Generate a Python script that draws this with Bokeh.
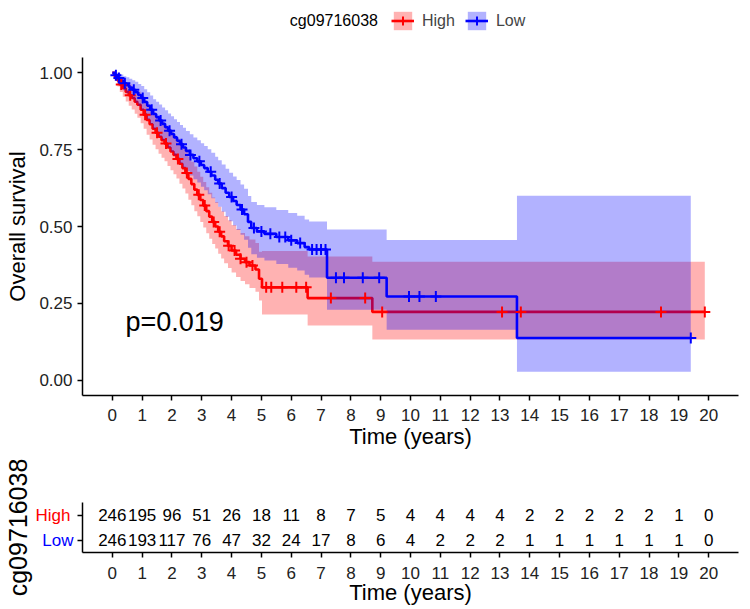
import numpy as np
from bokeh.plotting import figure
from bokeh.layouts import column
from bokeh.models import (Range1d, FixedTicker, NumeralTickFormatter, Label,
                          Legend, LegendItem, ColumnDataSource, LinearAxis)
from bokeh.embed import file_html
from bokeh.resources import INLINE

FONT = "Liberation Sans"

# ---------------- data ----------------
groups = ["High", "Low"]
legend_title = "cg09716038"
p_text = "p=0.019"

red_t = [0.08, 0.17, 0.25, 0.35, 0.45, 0.55, 0.65, 0.75, 0.84, 0.95,
         1.05, 1.15, 1.25, 1.35, 1.45, 1.55, 1.65, 1.75, 1.85, 1.95,
         2.05, 2.15, 2.25, 2.35, 2.45, 2.55, 2.65, 2.75, 2.85, 2.95,
         3.05, 3.15, 3.25, 3.35, 3.45, 3.55, 3.65, 3.75, 3.88, 4.00,
         4.15, 4.30, 4.45, 4.60, 4.80, 4.92, 5.02, 6.55, 8.72]
red_s = [0.988, 0.975, 0.962, 0.950, 0.938, 0.927, 0.918, 0.906, 0.896, 0.880,
         0.864, 0.847, 0.833, 0.818, 0.805, 0.792, 0.781, 0.770, 0.757, 0.744,
         0.733, 0.720, 0.704, 0.690, 0.674, 0.655, 0.638, 0.620, 0.603, 0.586,
         0.568, 0.550, 0.532, 0.515, 0.500, 0.483, 0.468, 0.452, 0.437, 0.422,
         0.408, 0.395, 0.384, 0.373, 0.360, 0.330, 0.302, 0.267, 0.222]
red_lo = [0.974, 0.956, 0.938, 0.922, 0.907, 0.893, 0.881, 0.867, 0.854, 0.836,
          0.818, 0.799, 0.783, 0.766, 0.751, 0.737, 0.724, 0.712, 0.697, 0.683,
          0.670, 0.656, 0.639, 0.624, 0.607, 0.587, 0.569, 0.550, 0.533, 0.515,
          0.497, 0.478, 0.460, 0.443, 0.428, 0.411, 0.396, 0.380, 0.365, 0.350,
          0.336, 0.323, 0.312, 0.300, 0.288, 0.259, 0.214, 0.178, 0.132]
red_hi = [1.000, 0.994, 0.986, 0.978, 0.969, 0.962, 0.955, 0.946, 0.939, 0.926,
          0.912, 0.897, 0.885, 0.872, 0.860, 0.848, 0.839, 0.830, 0.819, 0.807,
          0.797, 0.786, 0.771, 0.759, 0.745, 0.727, 0.711, 0.695, 0.678, 0.662,
          0.645, 0.628, 0.610, 0.594, 0.580, 0.564, 0.550, 0.534, 0.520, 0.505,
          0.492, 0.479, 0.468, 0.458, 0.446, 0.418, 0.420, 0.402, 0.385]
red_end = 19.87
red_cens = [0.3, 0.6, 1.1, 1.5, 1.8, 2.2, 2.5, 2.9, 3.1, 3.4, 3.6, 3.9, 4.1, 4.3,
            4.5, 4.7, 5.16, 5.33, 5.7, 6.17, 6.5, 7.33, 8.48, 9.05, 13.07, 13.7,
            18.4, 19.87]

blue_t = [0.08, 0.17, 0.27, 0.37, 0.47, 0.57, 0.67, 0.77, 0.87, 0.97,
          1.07, 1.17, 1.27, 1.37, 1.47, 1.57, 1.67, 1.77, 1.87, 1.97,
          2.07, 2.17, 2.27, 2.37, 2.47, 2.60, 2.72, 2.85, 2.97, 3.08,
          3.20, 3.32, 3.45, 3.55, 3.67, 3.80, 3.92, 4.05, 4.17, 4.30,
          4.42, 4.55, 4.66, 4.85, 5.10, 5.50, 5.90, 6.20, 6.45, 6.60,
          7.20, 9.20, 13.57]
blue_s = [0.992, 0.983, 0.975, 0.966, 0.960, 0.952, 0.945, 0.937, 0.928, 0.918,
          0.905, 0.893, 0.880, 0.866, 0.856, 0.845, 0.834, 0.823, 0.812, 0.801,
          0.790, 0.779, 0.768, 0.757, 0.746, 0.733, 0.722, 0.712, 0.700, 0.690,
          0.678, 0.666, 0.652, 0.640, 0.625, 0.610, 0.596, 0.583, 0.570, 0.555,
          0.540, 0.515, 0.495, 0.484, 0.476, 0.466, 0.455, 0.446, 0.433, 0.425,
          0.333, 0.272, 0.137]
blue_lo = [0.981, 0.967, 0.955, 0.943, 0.934, 0.923, 0.914, 0.903, 0.892, 0.879,
           0.863, 0.849, 0.834, 0.818, 0.806, 0.793, 0.781, 0.768, 0.756, 0.743,
           0.731, 0.718, 0.706, 0.693, 0.681, 0.666, 0.654, 0.643, 0.629, 0.618,
           0.605, 0.592, 0.577, 0.564, 0.548, 0.532, 0.517, 0.503, 0.489, 0.473,
           0.457, 0.431, 0.410, 0.398, 0.389, 0.378, 0.366, 0.357, 0.343, 0.334,
           0.229, 0.164, 0.027]
blue_hi = [1.000, 0.999, 0.995, 0.989, 0.986, 0.981, 0.976, 0.971, 0.964, 0.957,
           0.947, 0.937, 0.926, 0.914, 0.906, 0.897, 0.887, 0.878, 0.868, 0.859,
           0.849, 0.840, 0.830, 0.821, 0.811, 0.800, 0.790, 0.781, 0.771, 0.762,
           0.751, 0.740, 0.727, 0.716, 0.702, 0.688, 0.675, 0.663, 0.651, 0.637,
           0.623, 0.599, 0.580, 0.570, 0.563, 0.554, 0.544, 0.535, 0.523, 0.516,
           0.490, 0.456, 0.600]
blue_end = 19.4
blue_cens = [0.12, 0.22, 0.42, 0.72, 1.02, 1.32, 1.62, 1.92, 2.32, 2.62, 2.92,
             3.3, 3.6, 4.0, 4.35, 4.75, 5.0, 5.3, 5.6, 5.8, 6.0, 6.3, 6.7, 6.85,
             7.0, 7.15, 7.5, 7.77, 8.4, 8.95, 9.95, 10.3, 10.85, 19.4]

risk_times = list(range(0, 21))
risk_high = [246, 195, 96, 51, 26, 18, 11, 8, 7, 5, 4, 4, 4, 4, 2, 2, 2, 2, 2, 1, 0]
risk_low = [246, 193, 117, 76, 47, 32, 24, 17, 8, 6, 4, 2, 2, 2, 1, 1, 1, 1, 1, 1, 0]

x_ticks = list(range(0, 21))
y_ticks = [0, 0.25, 0.5, 0.75, 1.0]

RED = "#FF0000"
BLUE = "#0000FF"
COLORS = {"High": RED, "Low": BLUE}
X_RANGE = (-1, 21)


def step_arrays(t, s, lo, hi, end):
    x = [0.0] + list(t) + [end]
    y = [1.0] + list(s) + [s[-1]]
    y1 = [1.0] + list(lo) + [lo[-1]]
    y2 = [1.0] + list(hi) + [hi[-1]]
    return x, y, y1, y2


def censor_y(t, s, cens):
    tt = np.array([0.0] + list(t))
    ss = np.array([1.0] + list(s))
    idx = np.searchsorted(tt, np.array(cens), side="right") - 1
    return list(ss[idx])


def style_axis(ax, title_size="22px"):
    ax.axis_line_color = "black"
    ax.axis_line_width = 1.5
    ax.major_tick_line_color = "black"
    ax.major_tick_line_width = 1.5
    ax.major_tick_in = 0
    ax.major_tick_out = 5
    ax.minor_tick_line_color = None
    ax.major_label_text_font = FONT
    ax.major_label_text_font_size = "17px"
    ax.major_label_text_color = "#222222"
    ax.axis_label_text_font = FONT
    ax.axis_label_text_font_size = title_size
    ax.axis_label_text_font_style = "normal"
    ax.axis_label_text_color = "black"


def bare(fig):
    fig.outline_line_color = None
    fig.xgrid.visible = False
    fig.ygrid.visible = False


# ---------------- legend strip (frame aligned with the plot frame) ----------------
lg = figure(width=742, height=40, x_range=Range1d(*X_RANGE), y_range=Range1d(0, 40),
            output_backend="svg", toolbar_location=None,
            x_axis_type=None, y_axis_type=None,
            min_border_left=76, min_border_right=10, min_border_top=0, min_border_bottom=0)
bare(lg)
nan = float("nan")
items = []
for name in groups:
    col = COLORS[name]
    rq = lg.quad(left=[nan], right=[nan], top=[nan], bottom=[nan], fill_color=col,
                 fill_alpha=0.3, line_color=None)
    rl = lg.line(x=[nan], y=[nan], line_color=col, line_width=2.6)
    rs = lg.scatter(x=[nan], y=[nan], marker="cross", size=11, line_color=col, line_width=2)
    items.append(LegendItem(label=name, renderers=[rq, rl, rs]))
legend = Legend(items=items, orientation="horizontal", location=(309, 8),
                glyph_width=23, glyph_height=23, label_height=23,
                label_text_font=FONT, label_text_font_size="16px",
                label_standoff=8, spacing=10, padding=0, margin=0,
                background_fill_alpha=0, border_line_color=None)
lg.add_layout(legend, "center")
lg.add_layout(Label(x=9.0, y=20, text=legend_title, text_font=FONT,
                    text_font_size="16px", text_align="right",
                    text_baseline="middle", text_color="black"))

# ---------------- main plot ----------------
p = figure(frame_width=656, frame_height=338,
           x_range=Range1d(*X_RANGE), y_range=Range1d(-0.05, 1.05),
           output_backend="svg", toolbar_location=None,
           min_border_left=76, min_border_right=10,
           min_border_top=17, min_border_bottom=64)
bare(p)

for name, t, s, lo, hi, end in [
        ("High", red_t, red_s, red_lo, red_hi, red_end),
        ("Low", blue_t, blue_s, blue_lo, blue_hi, blue_end)]:
    col = COLORS[name]
    x, y, y1, y2 = step_arrays(t, s, lo, hi, end)
    p.varea_step(x=x, y1=y1, y2=y2, step_mode="after", fill_color=col, fill_alpha=0.3)
    p.step(x=x, y=y, mode="after", line_color=col, line_width=2.6)

for name, t, s, cens in [("High", red_t, red_s, red_cens),
                         ("Low", blue_t, blue_s, blue_cens)]:
    src = ColumnDataSource(dict(x=cens, y=censor_y(t, s, cens)))
    p.scatter("x", "y", source=src, marker="cross", size=11,
              line_color=COLORS[name], line_width=2)

p.xaxis.ticker = FixedTicker(ticks=x_ticks)
p.yaxis.ticker = FixedTicker(ticks=y_ticks)
p.yaxis.formatter = NumeralTickFormatter(format="0.00")
p.xaxis.axis_label = "Time (years)"
p.yaxis.axis_label = "Overall survival"
style_axis(p.xaxis[0])
style_axis(p.yaxis[0])
p.xaxis.major_label_standoff = 8
p.xaxis.axis_label_standoff = 0
p.yaxis.major_label_standoff = 5
p.yaxis.axis_label_standoff = 6

p.add_layout(Label(x=0.44, y=0.19, text=p_text, text_font=FONT,
                   text_font_size="27px", text_baseline="middle",
                   text_color="black"))

# ---------------- risk table ----------------
t = figure(frame_width=656, frame_height=50,
           x_range=Range1d(*X_RANGE), y_range=Range1d(0.5, 2.5),
           output_backend="svg", toolbar_location=None, y_axis_location=None,
           min_border_left=76, min_border_right=10,
           min_border_top=43, min_border_bottom=48)
bare(t)

tsrc = ColumnDataSource(dict(
    x=risk_times + risk_times,
    y=[2] * len(risk_times) + [1] * len(risk_times),
    txt=[str(v) for v in risk_high] + [str(v) for v in risk_low]))
t.text("x", "y", text="txt", source=tsrc, text_align="center",
       text_baseline="middle", text_font_size="17px", text_color="black",
       text_font={"value": FONT})

t.xaxis.ticker = FixedTicker(ticks=x_ticks)
t.xaxis.axis_label = "Time (years)"
style_axis(t.xaxis[0])
t.xaxis.major_label_standoff = 9
t.xaxis.axis_label_standoff = -2

# inner axis: line, both ticks, blue "Low" label
ax_low = LinearAxis(ticker=FixedTicker(ticks=[1, 2]))
style_axis(ax_low)
ax_low.major_label_overrides = {1: "Low", 2: ""}
ax_low.major_label_text_color = BLUE
ax_low.major_label_standoff = 4
t.add_layout(ax_low, "left")

# outer axis: no line/ticks, red "High" label pulled back next to the ticks,
# and the rotated group title
ax_high = LinearAxis(ticker=FixedTicker(ticks=[2]))
style_axis(ax_high, title_size="25px")
ax_high.axis_line_color = None
ax_high.major_tick_line_color = None
ax_high.major_tick_out = 0
ax_high.major_label_overrides = {2: "High"}
ax_high.major_label_text_color = RED
ax_high.major_label_standoff = -31
ax_high.axis_label = legend_title
ax_high.axis_label_standoff = 1
t.add_layout(ax_high, "left")

layout = column(lg, p, t, spacing=0)
open("out.html", "w").write(file_html(layout, INLINE))
